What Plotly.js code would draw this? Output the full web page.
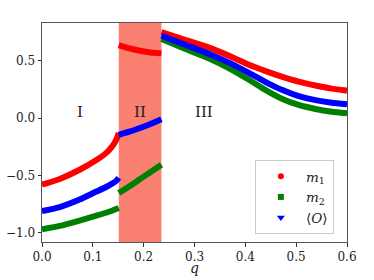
<!DOCTYPE html>
<html><head><meta charset="utf-8">
<script src="https://cdn.plot.ly/plotly-3.0.1.min.js"></script>
<style>html,body{margin:0;padding:0;background:#fff}#c{width:374px;height:280px}</style>
</head><body><div id="c"></div>
<script>
// Region I
const qI  = [0, 0.035, 0.074, 0.107, 0.126, 0.139, 0.147, 0.151];
const m1I = [-0.58, -0.53, -0.45, -0.365, -0.305, -0.24, -0.18, -0.13];
const m2I = [-0.97, -0.94, -0.893, -0.85, -0.825, -0.805, -0.79, -0.783];
const OI  = [-0.81, -0.775, -0.71, -0.64, -0.6, -0.568, -0.542, -0.52];
// Region II
const qII  = [0.151, 0.17, 0.19, 0.21, 0.235];
const m1II = [0.637, 0.61, 0.59, 0.575, 0.565];
const m2II = [-0.652, -0.6, -0.54, -0.48, -0.406];
const OII  = [-0.145, -0.12, -0.09, -0.057, -0.01];
// Region III
const qIII  = [0.235, 0.28, 0.329, 0.37, 0.407, 0.44, 0.473, 0.505, 0.538, 0.57, 0.6];
const m1III = [0.75, 0.685, 0.615, 0.54, 0.465, 0.41, 0.36, 0.318, 0.285, 0.258, 0.24];
const m2III = [0.69, 0.607, 0.52, 0.43, 0.335, 0.245, 0.168, 0.115, 0.08, 0.056, 0.042];
const OIII  = [0.72, 0.643, 0.56, 0.48, 0.395, 0.315, 0.245, 0.192, 0.157, 0.135, 0.122];
// Phase boundaries and labels
const bandQ = [0.151, 0.235];
const regionLabels = ['I', 'II', 'III'];
const regionQ = [0.075, 0.193, 0.318];
const regionY = [0.05, 0.05, 0.05];
const xTitle = '<i>q</i>';

const colors = {m1: '#ff0000', m2: '#008000', O: '#0000ff'};
const W = 6;
function seg(x, y, c) {
  return {x: x, y: y, mode: 'lines', type: 'scatter', showlegend: false,
          line: {color: c, width: W, shape: 'spline', smoothing: 0.5}, hoverinfo: 'skip'};
}
const traces = [
  seg(qI, m1I, colors.m1), seg(qII, m1II, colors.m1), seg(qIII, m1III, colors.m1),
  seg(qI, m2I, colors.m2), seg(qII, m2II, colors.m2), seg(qIII, m2III, colors.m2),
  seg(qI, OI, colors.O), seg(qII, OII, colors.O), seg(qIII, OIII, colors.O),
  {x: [null], y: [null], mode: 'markers', type: 'scatter', name: '<i>m</i><sub>1</sub>',
   marker: {color: colors.m1, symbol: 'circle', size: 6}},
  {x: [null], y: [null], mode: 'markers', type: 'scatter', name: '<i>m</i><sub>2</sub>',
   marker: {color: colors.m2, symbol: 'square', size: 6}},
  {x: [null], y: [null], mode: 'markers', type: 'scatter', name: '⟨<i>O</i>⟩',
   marker: {color: colors.O, symbol: 'triangle-down', size: 7}}
];
const font = {family: 'DejaVu Serif, serif', color: '#222'};
const annotations = regionLabels.map((t, i) => ({x: regionQ[i], y: regionY[i], xref: 'x', yref: 'y',
            text: t, showarrow: false, font: Object.assign({size: 15}, font)}));
annotations.push({x: 0.5, y: -0.165, xref: 'paper', yref: 'paper', xanchor: 'center', yanchor: 'bottom',
            text: xTitle, showarrow: false, font: Object.assign({size: 14}, font)});
const layout = {
  width: 374, height: 280,
  margin: {l: 42, r: 27, t: 23, b: 38},
  paper_bgcolor: '#fff', plot_bgcolor: '#fff',
  font: Object.assign({size: 12}, font),
  showlegend: true,
  legend: {x: 0.698, y: 0.374, xanchor: 'left', yanchor: 'top',
           bgcolor: '#fff', bordercolor: '#ccc', borderwidth: 1,
           font: Object.assign({size: 13.5}, font), itemwidth: 40},
  xaxis: {range: [0, 0.6], dtick: 0.1, tick0: 0, tickformat: '.1f',
          showgrid: false, zeroline: false, showline: true, mirror: true,
          linecolor: '#555', linewidth: 1, ticks: 'outside', ticklen: 3.5, tickcolor: '#333',
          tickfont: Object.assign({size: 12}, font)},
  yaxis: {range: [-1.08, 0.83], dtick: 0.5, tick0: 0, tickformat: '.1f',
          showgrid: false, zeroline: false, showline: true, mirror: true,
          linecolor: '#555', linewidth: 1, ticks: 'outside', ticklen: 3.5, tickcolor: '#333',
          tickfont: Object.assign({size: 12}, font)},
  shapes: [{type: 'rect', xref: 'x', yref: 'paper', x0: bandQ[0], x1: bandQ[1], y0: 0, y1: 1,
            fillcolor: '#fa8072', line: {width: 0}, layer: 'below'}],
  annotations: annotations
};
Plotly.newPlot('c', traces, layout, {displayModeBar: false, staticPlot: true});
</script></body></html>
